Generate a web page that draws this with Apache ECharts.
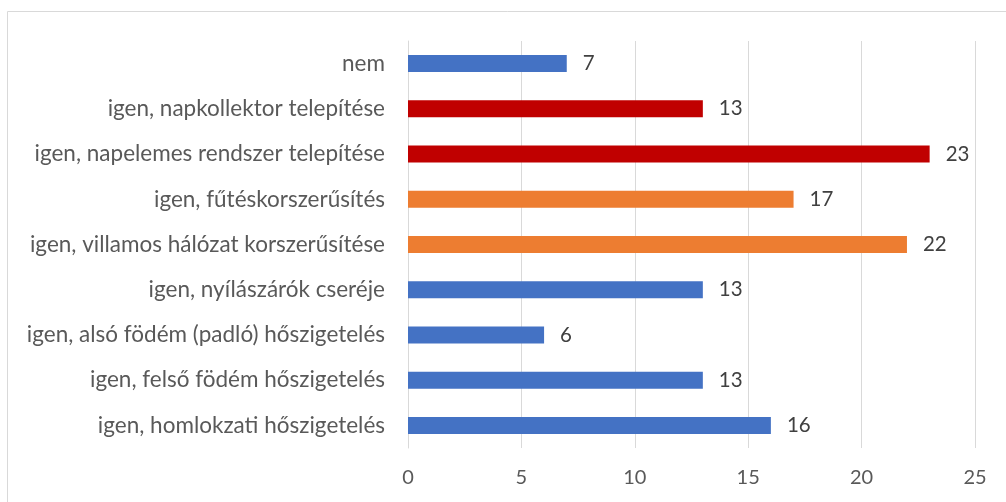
<!DOCTYPE html>
<html>
<head>
<meta charset="utf-8">
<script src="https://cdn.jsdelivr.net/npm/echarts@6/dist/echarts.min.js"></script>
<style>
html, body { margin: 0; padding: 0; background: #fff; }
#chart { width: 1006px; height: 502px; }
</style>
</head>
<body>
<div id="chart"></div>
<script>
// kategóriák felülről lefelé
const categories = [
    'nem',
    'igen, napkollektor telepítése',
    'igen, napelemes rendszer telepítése',
    'igen, fűtéskorszerűsítés',
    'igen, villamos hálózat korszerűsítése',
    'igen, nyílászárók cseréje',
    'igen, alsó födém (padló) hőszigetelés',
    'igen, felső födém hőszigetelés',
    'igen, homlokzati hőszigetelés'
]
const values = [7, 13, 23, 17, 22, 13, 6, 13, 16]
const xTicks = [0, 5, 10, 15, 20, 25]

// bar colours by category
const barColors = ['#4472C4', '#C00000', '#C00000', '#ED7D31', '#ED7D31', '#4472C4', '#4472C4', '#4472C4', '#4472C4']

const font = 'Lato'
const textColor = '#595959'

let myChart = echarts.init(document.getElementById('chart'))
let option = {
    animation: false,
    graphic: [{
        type: 'rect',
        shape: {x: 7.5, y: 11.5, width: 1010, height: 500},
        style: {fill: 'none', stroke: '#D9D9D9', lineWidth: 1},
        silent: true
    }],
    grid: {left: 408, right: 31, top: 41, bottom: 54},
    xAxis: {
        type: 'value',
        min: xTicks[0],
        max: xTicks[xTicks.length - 1],
        interval: 5,
        axisLine: {show: false},
        axisTick: {show: false},
        splitLine: {lineStyle: {color: '#D9D9D9', width: 1}},
        axisLabel: {color: textColor, fontFamily: font, fontSize: 20, margin: 20}
    },
    yAxis: {
        type: 'category',
        inverse: true,
        data: categories,
        axisLine: {lineStyle: {color: '#D9D9D9'}},
        axisTick: {show: false},
        axisLabel: {color: textColor, fontFamily: font, fontSize: 22.5, margin: 23}
    },
    series: [{
        type: 'bar',
        barWidth: 17,
        data: values.map((v, i) => ({value: v, itemStyle: {color: barColors[i]}})),
        label: {
            show: true,
            position: 'right',
            distance: 16,
            color: '#404040',
            fontFamily: font,
            fontSize: 20.5
        }
    }]
}
myChart.setOption(option)
</script>
</body>
</html>
